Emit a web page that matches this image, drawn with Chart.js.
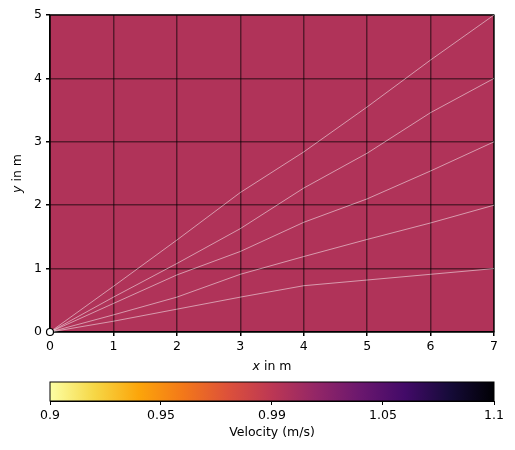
<!DOCTYPE html>
<html>
<head>
<meta charset="utf-8">
<script src="https://cdn.jsdelivr.net/npm/chart.js@4/dist/chart.umd.min.js"></script>
<style>
  body { margin: 0; background: #fff; }
  #wrap { position: relative; width: 515px; height: 450px; }
  #rayChart { position: absolute; left: 0; top: 0; }
  #barChart { position: absolute; left: 0; top: 375px; }
</style>
</head>
<body>
<div id="wrap">
  <canvas id="rayChart" width="515" height="380"></canvas>
  <canvas id="barChart" width="515" height="75"></canvas>
</div>
<script>
// ray paths, sampled at the cell borders x = 0..7
var rayX = [0, 1, 2, 3, 4, 5, 6, 7];
var ray1 = [0, 0.72, 1.45, 2.2, 2.84, 3.55, 4.29, 5];
var ray2 = [0, 0.55, 1.08, 1.63, 2.27, 2.82, 3.46, 4];
var ray3 = [0, 0.45, 0.9, 1.27, 1.73, 2.1, 2.54, 3];
var ray4 = [0, 0.27, 0.55, 0.91, 1.19, 1.46, 1.72, 2];
var ray5 = [0, 0.17, 0.36, 0.55, 0.73, 0.82, 0.91, 1];
var source = [{ x: 0, y: 0 }];

// colorbar
var cbarRange = [0.9, 1.1];
var cbarTicks = [0.9, 0.95, 1.0, 1.05, 1.1];
var cbarLabels = ['0.9', '0.95', '0.99', '1.05', '1.1'];

// inferno, reversed (yellow at low velocity)
var infernoR = ['#fcffa4', '#f6d746', '#fca50a', '#f37819', '#dd513a', '#bc3754',
  '#932667', '#6a176e', '#420a68', '#160b39', '#000004'];
var fieldColor = '#b03359';

var font = { family: 'DejaVu Sans', size: 12.5 };
Chart.defaults.color = '#000';

function toPts(ys) {
  return ys.map(function (y, i) { return { x: rayX[i], y: y }; });
}

function rayDs(ys) {
  return {
    data: toPts(ys),
    showLine: true,
    borderColor: 'rgba(255,255,255,0.5)',
    borderWidth: 1,
    pointRadius: 0,
    order: 1
  };
}

var framePlugin = {
  id: 'frame',
  beforeDraw: function (chart) {
    var a = chart.chartArea, c = chart.ctx;
    c.save();
    c.fillStyle = fieldColor;
    c.fillRect(a.left, a.top, a.right - a.left, a.bottom - a.top);
    c.restore();
  },
  beforeDatasetsDraw: function (chart) {
    var a = chart.chartArea, c = chart.ctx;
    c.save();
    c.strokeStyle = '#000';
    c.lineWidth = 1.2;
    c.strokeRect(a.left, a.top, a.right - a.left, a.bottom - a.top);
    c.restore();
  },
  afterDraw: function (chart) {
    var a = chart.chartArea, c = chart.ctx;
    function label(v, rest, x, y, rot) {
      c.save();
      c.translate(x, y);
      c.rotate(rot);
      c.fillStyle = '#000';
      c.textBaseline = 'middle';
      c.font = 'italic 12.5px "DejaVu Sans"';
      var w1 = c.measureText(v).width;
      c.font = '12.5px "DejaVu Sans"';
      var w2 = c.measureText(rest).width;
      var x0 = -(w1 + w2) / 2;
      c.textAlign = 'left';
      c.font = 'italic 12.5px "DejaVu Sans"';
      c.fillText(v, x0, 0);
      c.font = '12.5px "DejaVu Sans"';
      c.fillText(rest, x0 + w1, 0);
      c.restore();
    }
    label('x', ' in m', (a.left + a.right) / 2, 367, 0);
    label('y', ' in m', 18, (a.top + a.bottom) / 2, -Math.PI / 2);
  }
};

new Chart(document.getElementById('rayChart'), {
  type: 'scatter',
  data: {
    datasets: [
      {
        data: source,
        pointRadius: 3.5,
        pointBackgroundColor: '#fff',
        pointBorderColor: '#000',
        pointBorderWidth: 1.2,
        clip: false,
        order: 0
      },
      rayDs(ray1), rayDs(ray2), rayDs(ray3), rayDs(ray4), rayDs(ray5)
    ]
  },
  options: {
    responsive: false,
    animation: false,
    layout: { padding: { top: 15, right: 21, left: 0, bottom: 0 } },
    plugins: { legend: { display: false }, tooltip: { enabled: false } },
    scales: {
      x: {
        type: 'linear', min: 0, max: 7,
        ticks: { stepSize: 1, font: font, padding: 3, maxRotation: 0 },
        grid: { color: 'rgba(0,0,0,0.5)', lineWidth: 1.5, tickColor: '#000', tickLength: 4 },
        border: { color: '#000', width: 1.2 },
        afterFit: function (s) { s.height = 48; }
      },
      y: {
        type: 'linear', min: 0, max: 5,
        ticks: { stepSize: 1, font: font, padding: 4 },
        grid: { color: 'rgba(0,0,0,0.5)', lineWidth: 1.5, tickColor: '#000', tickLength: 4 },
        border: { color: '#000', width: 1.2 },
        afterFit: function (s) { s.width = 50; }
      }
    }
  },
  plugins: [framePlugin]
});

var outlinePlugin = {
  id: 'outline',
  afterDatasetsDraw: function (chart) {
    var a = chart.chartArea, c = chart.ctx;
    c.save();
    c.strokeStyle = '#000';
    c.lineWidth = 1;
    c.strokeRect(a.left, a.top, a.right - a.left, a.bottom - a.top);
    c.restore();
  }
};

new Chart(document.getElementById('barChart'), {
  type: 'bar',
  data: {
    labels: [''],
    datasets: [{
      data: [cbarRange],
      barPercentage: 1,
      categoryPercentage: 1,
      borderWidth: 0,
      backgroundColor: function (context) {
        var chart = context.chart, a = chart.chartArea;
        if (!a) return infernoR[5];
        var g = chart.ctx.createLinearGradient(a.left, 0, a.right, 0);
        infernoR.forEach(function (col, i) { g.addColorStop(i / (infernoR.length - 1), col); });
        return g;
      }
    }]
  },
  options: {
    indexAxis: 'y',
    responsive: false,
    animation: false,
    layout: { padding: { top: 7, right: 21, left: 50, bottom: 0 } },
    plugins: { legend: { display: false }, tooltip: { enabled: false } },
    scales: {
      y: { display: false },
      x: {
        type: 'linear', min: cbarRange[0], max: cbarRange[1],
        afterBuildTicks: function (s) {
          s.ticks = cbarTicks.map(function (v) { return { value: v }; });
        },
        ticks: {
          font: font, padding: 3, maxRotation: 0, autoSkip: false,
          callback: function (v, i) { return cbarLabels[i]; }
        },
        grid: { drawOnChartArea: false, tickColor: '#000', tickLength: 4 },
        border: { color: '#000', width: 1 },
        title: { display: true, text: 'Velocity (m/s)', font: font, padding: { top: 0, bottom: 10 } },
        afterFit: function (s) { s.height = 49; }
      }
    }
  },
  plugins: [outlinePlugin]
});
</script>
</body>
</html>
